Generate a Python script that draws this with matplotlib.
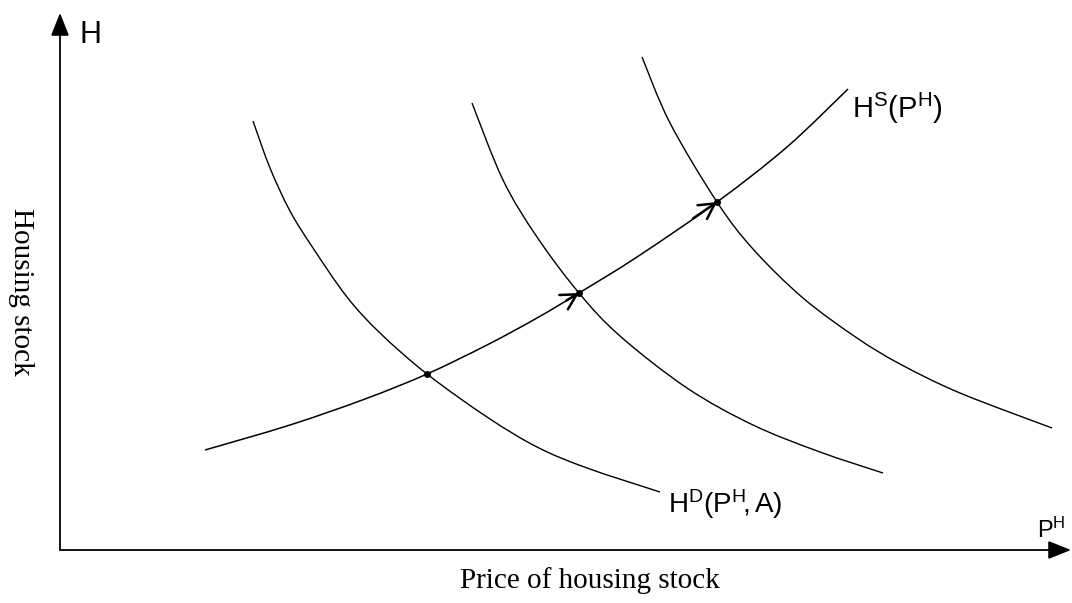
import matplotlib
matplotlib.use("Agg")
import matplotlib.pyplot as plt
from matplotlib.path import Path
from matplotlib.patches import PathPatch
import numpy as np

# curve points (price, housing stock)
supply_p = [14.5, 23.0, 30.5, 36.7, 42.7, 47.7, 51.9, 57.7, 65.7, 72.7, 78.8]
supply_h = [10.0, 12.5, 15.1, 17.6, 20.5, 23.2, 25.7, 29.3, 34.8, 40.3, 46.1]

demand1_p = [19.3, 21.0, 23.0, 25.3, 28.7, 32.0, 36.7, 42.7, 47.7, 52.7, 60.0]
demand1_h = [42.9, 38.2, 33.9, 30.2, 25.3, 21.7, 17.6, 13.3, 10.3, 8.2, 5.8]

demand2_p = [41.2, 44.3, 47.7, 51.9, 56.0, 62.7, 69.3, 76.0, 82.3]
demand2_h = [44.7, 37.0, 31.3, 25.7, 21.4, 16.2, 12.5, 9.8, 7.7]

demand3_p = [58.2, 61.0, 65.7, 69.3, 74.3, 79.7, 84.0, 90.0, 99.2]
demand3_h = [49.3, 42.7, 34.8, 30.1, 25.2, 21.2, 18.6, 15.7, 12.2]

# equilibria where supply crosses each demand curve
eq_p = [36.7, 51.9, 65.7]
eq_h = [17.6, 25.7, 34.8]

sans = ['Liberation Sans', 'DejaVu Sans']
serif = ['Liberation Serif', 'DejaVu Serif']
plt.rcParams['mathtext.fontset'] = 'custom'
plt.rcParams['mathtext.rm'] = 'Liberation Sans'
plt.rcParams['mathtext.it'] = 'Liberation Sans'


def smooth_curve(ax, xs, ys, lw):
    # catmull-rom through the read points, drawn as cubic bezier pieces
    pts = np.column_stack([xs, ys])
    verts = [pts[0]]
    codes = [Path.MOVETO]
    n = len(pts)
    for i in range(n - 1):
        p0 = pts[max(i - 1, 0)]
        p1 = pts[i]
        p2 = pts[i + 1]
        p3 = pts[min(i + 2, n - 1)]
        c1 = p1 + (p2 - p0) / 6.0
        c2 = p2 - (p3 - p1) / 6.0
        verts += [c1, c2, p2]
        codes += [Path.CURVE4] * 3
    ax.add_patch(PathPatch(Path(verts, codes), fill=False, color='black', lw=lw))


fig = plt.figure(figsize=(10.72, 6.03), dpi=100)
ax = fig.add_axes([0, 0, 1, 1])
ax.set_xlim(-6.0, 101.2)
ax.set_ylim(-5.3, 55.0)
ax.axis('off')

# axes with arrows
head = '-|>,head_length=0.5,head_width=0.2'
ax.annotate('', xy=(0, 53.7), xytext=(0, 0),
            arrowprops=dict(arrowstyle=head, color='black', lw=1.3, mutation_scale=28,
                            shrinkA=0, shrinkB=0))
ax.annotate('', xy=(101.1, 0), xytext=(0, 0),
            arrowprops=dict(arrowstyle=head, color='black', lw=1.3, mutation_scale=28,
                            shrinkA=0, shrinkB=0))

smooth_curve(ax, supply_p, supply_h, 1.1)
smooth_curve(ax, demand1_p, demand1_h, 1.0)
smooth_curve(ax, demand2_p, demand2_h, 1.0)
smooth_curve(ax, demand3_p, demand3_h, 1.0)

ax.plot(eq_p, eq_h, 'o', color='black', ms=4)

# open arrowheads along the supply curve, just before each new equilibrium
for i in range(1, len(eq_p)):
    k = supply_p.index(eq_p[i])
    bx = eq_p[i] - 0.3 * (eq_p[i] - supply_p[k - 1])
    by = eq_h[i] - 0.3 * (eq_h[i] - supply_h[k - 1])
    ax.annotate('', xy=(eq_p[i], eq_h[i]), xytext=(bx, by),
                arrowprops=dict(arrowstyle='->,head_length=0.55,head_width=0.3', color='black',
                                lw=1.8, mutation_scale=20, shrinkA=0, shrinkB=0))

ax.text(2.0, 51.5, 'H', family=sans, fontsize=22, ha='left', va='center')
ax.text(79.2, 43.2, r'$\mathrm{H^S(P^H)}$', fontsize=21, ha='left', va='baseline')
ax.text(60.8, 3.7, r'$\mathrm{H^D(P^H\!,A)}$', fontsize=20, ha='left', va='baseline')
ax.text(97.7, 1.2, r'$\mathrm{P^H}$', fontsize=17, ha='left', va='baseline')

ax.text(-3.9, 25.8, 'Housing stock', family=serif, fontsize=21, rotation=-90,
        ha='center', va='center')
ax.text(53.0, -3.8, 'Price of housing stock', family=serif, fontsize=21,
        ha='center', va='baseline')

fig.savefig('out.png', dpi=100)
